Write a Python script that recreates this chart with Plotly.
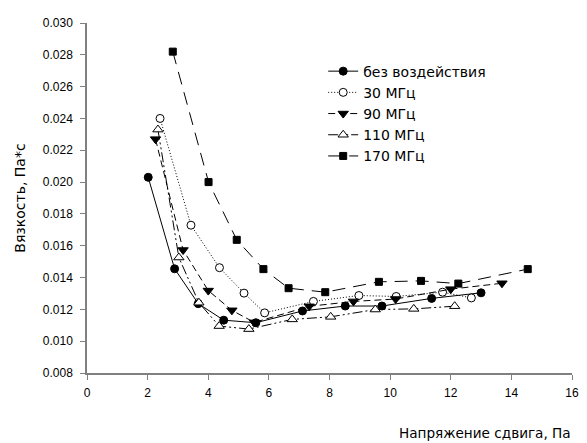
import plotly.graph_objects as go

# Data
series_names = ["без воздействия", "30 МГц", "90 МГц", "110 МГц", "170 МГц"]

x_none = [2.02, 2.89, 3.67, 4.51, 5.57, 7.11, 8.52, 9.73, 11.37, 13.00]
y_none = [0.0203, 0.01455, 0.01236, 0.01132, 0.01116, 0.0119, 0.01221, 0.01221, 0.01269, 0.01304]

x_30 = [2.41, 3.43, 4.37, 5.18, 5.86, 7.47, 8.97, 10.20, 11.73, 12.68]
y_30 = [0.0240, 0.01729, 0.01462, 0.01302, 0.01178, 0.0125, 0.01287, 0.01281, 0.01308, 0.01272]

x_90 = [2.26, 3.17, 4.00, 4.78, 5.52, 7.33, 8.79, 10.18, 12.00, 13.69]
y_90 = [0.0227, 0.01573, 0.01318, 0.01194, 0.01118, 0.01219, 0.0125, 0.01265, 0.01327, 0.01364]

x_110 = [2.34, 3.03, 3.69, 4.36, 5.34, 6.77, 8.04, 9.51, 10.78, 12.13]
y_110 = [0.0233, 0.01526, 0.01242, 0.01095, 0.01076, 0.01137, 0.01153, 0.01199, 0.01203, 0.0122]

x_170 = [2.83, 4.01, 4.94, 5.82, 6.65, 7.86, 9.63, 11.02, 12.25, 14.54]
y_170 = [0.0282, 0.0200, 0.01637, 0.01453, 0.01333, 0.01308, 0.01373, 0.01379, 0.01362, 0.01453]

x_ticks = [0, 2, 4, 6, 8, 10, 12, 14, 16]
y_ticks = [0.008, 0.010, 0.012, 0.014, 0.016, 0.018, 0.020, 0.022, 0.024, 0.026, 0.028, 0.030]

TICK_FONT = "Liberation Sans, Arial, sans-serif"
TEXT_FONT = "DejaVu Sans, sans-serif"

styles = [
    dict(dash="solid", symbol="circle", size=8, fill="black"),
    dict(dash="1px,2px", symbol="circle", size=8, fill="white"),
    dict(dash="7px,4px", symbol="triangle-down", size=9, fill="black"),
    dict(dash="10px,3px,2px,3px,2px,3px", symbol="triangle-up", size=9, fill="white"),
    dict(dash="13px,8px", symbol="square", size=7, fill="black"),
]

data = [(x_none, y_none), (x_30, y_30), (x_90, y_90), (x_110, y_110), (x_170, y_170)]

fig = go.Figure()
for i, (name, (xs, ys), st) in enumerate(zip(series_names, data, styles)):
    fig.add_trace(go.Scatter(
        x=xs, y=ys, name=name, mode="lines+markers",
        line=dict(color="black", width=1, dash=st["dash"]),
        marker=dict(symbol=st["symbol"], size=st["size"], color=st["fill"],
                    line=dict(color="black", width=1)),
    ))

# page is rendered with an 8px body margin; figure sized to compensate
fig.update_layout(
    width=579, height=435,
    margin=dict(l=79, r=8, t=11, b=70),
    paper_bgcolor="white", plot_bgcolor="white",
    font=dict(family=TICK_FONT, size=12, color="black"),
    showlegend=True,
    legend=dict(x=0.487, y=0.907, xanchor="left", yanchor="top",
                bgcolor="rgba(0,0,0,0)", font=dict(size=14, family=TEXT_FONT),
                tracegroupgap=0),
    xaxis=dict(range=[0, 16], tickvals=x_ticks, ticks="outside", ticklen=5,
               showline=True, linecolor="#808080", linewidth=1.5, tickcolor="#808080",
               showgrid=False, zeroline=False, tickfont=dict(size=12),
               ticklabelstandoff=3),
    yaxis=dict(range=[0.008, 0.030], tickvals=y_ticks, tickformat=".3f",
               ticks="outside", ticklen=5,
               showline=True, linecolor="#808080", linewidth=1.5, tickcolor="#808080",
               showgrid=False, zeroline=False, tickfont=dict(size=12),
               ticklabelstandoff=5,
               title=dict(text="Вязкость, Па*с", font=dict(size=14, family=TEXT_FONT),
                          standoff=14)),
    annotations=[dict(text="Напряжение сдвига, Па", xref="paper", yref="paper",
                      x=1.0, y=0, yshift=-60, xshift=1, xanchor="right", yanchor="middle",
                      showarrow=False, font=dict(size=13.6, family=TEXT_FONT))],
)

fig.write_html("out.html")
